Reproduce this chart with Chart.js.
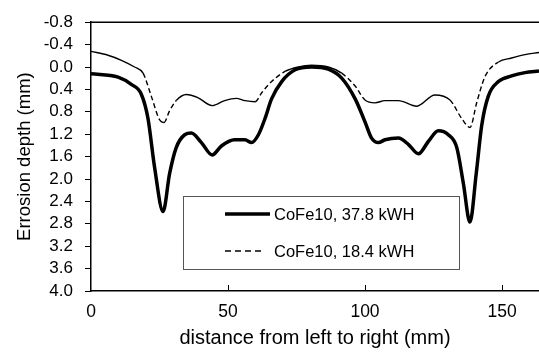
<!DOCTYPE html>
<html>
<head>
<meta charset="utf-8">
<script src="https://cdn.jsdelivr.net/npm/chart.js@4/dist/chart.umd.min.js"></script>
<style>
  html, body { margin: 0; padding: 0; background: #fff; }
  #wrap { width: 539px; height: 353px; }
</style>
</head>
<body>
<div id="wrap"><canvas id="erosion"></canvas></div>
<script>
// distance (mm) / depth (mm)
const seriesLabels = ["CoFe10, 37.8 kWH", "CoFe10, 18.4 kWH"];

const highX = [0, 9.9, 14.7, 18.4, 20.8, 23.2, 26.3, 28.7, 31.1, 34.2, 36.6, 40.3, 44.2, 47.6, 52.4,
  56.2, 58.6, 61.1, 63.5, 65.9, 69.6, 74.5, 80.5, 86.6, 91.5, 96.4, 100, 102.4, 104.9, 107.3,
  112.2, 115.8, 119.5, 123.1, 126.8, 130.4, 133.5, 135.9, 138.3, 140.6, 142.6, 145, 148.7, 153.5, 158.4, 163.5];
const highDepth = [0.12, 0.18, 0.31, 0.49, 0.92, 1.79, 2.58, 1.9, 1.44, 1.21, 1.18, 1.35, 1.57, 1.41, 1.3,
  1.3, 1.35, 1.21, 0.92, 0.57, 0.26, 0.05, 0.0, 0.04, 0.2, 0.57, 0.98, 1.27, 1.35, 1.3,
  1.27, 1.38, 1.55, 1.33, 1.14, 1.21, 1.44, 2.08, 2.77, 1.9, 1.04, 0.52, 0.26, 0.16, 0.1, 0.07];

const lowX = [0, 6.2, 11.1, 15.9, 19, 22, 25.1, 26.6, 28.7, 31.1, 34.8, 39.1, 44.2, 48.8, 53,
  56.2, 59.9, 62.3, 65.9, 70.8, 75.7, 80.5, 86.6, 91.5, 96.4, 100, 103.6, 107.3,
  112.2, 118.9, 125.5, 131, 135.3, 138.3, 140.8, 143.8, 148.7, 153.5, 158.4, 163.5];
const lowDepth = [-0.28, -0.21, -0.12, 0.0, 0.11, 0.52, 0.95, 0.99, 0.78, 0.6, 0.49, 0.55, 0.69, 0.6, 0.56,
  0.6, 0.62, 0.46, 0.26, 0.08, 0.0, -0.03, 0.0, 0.11, 0.34, 0.59, 0.64, 0.6,
  0.6, 0.7, 0.5, 0.59, 0.92, 1.08, 0.63, 0.17, -0.09, -0.16, -0.22, -0.26];

const xTicks = [0, 50, 100, 150];

const toPoints = (xs, ys) => xs.map((x, i) => ({ x: x, y: ys[i] }));

const FONT = "'Liberation Sans', Arial, sans-serif";
const DASH = [5, 3];

// the dashed curve only shows its gaps on the steep parts, like the original plot
const steepDash = ctx => {
  const dx = Math.abs(ctx.p1.x - ctx.p0.x);
  const dy = Math.abs(ctx.p1.y - ctx.p0.y);
  return dy > dx * 0.75 ? DASH : [];
};

// top frame line, inward x ticks and the boxed legend
const framePlugin = {
  id: "frame",
  afterDraw(chart) {
    const ctx = chart.ctx;
    const area = chart.chartArea;
    const xs = chart.scales.x;
    ctx.save();
    ctx.strokeStyle = "#000";
    ctx.lineWidth = 1.5;
    ctx.beginPath();
    ctx.moveTo(area.left, area.top);
    ctx.lineTo(area.right, area.top);
    ctx.stroke();

    ctx.lineWidth = 1;
    xTicks.slice(1).forEach(v => {
      const px = Math.round(xs.getPixelForValue(v)) + 0.5;
      ctx.beginPath();
      ctx.moveTo(px, area.bottom);
      ctx.lineTo(px, area.bottom - 6);
      ctx.stroke();
    });

    // legend box
    ctx.fillStyle = "#fff";
    ctx.fillRect(183, 196, 276, 73);
    ctx.strokeStyle = "#555";
    ctx.lineWidth = 1;
    ctx.strokeRect(183.5, 196.5, 276, 73);

    const rows = [214, 251];
    chart.data.datasets.forEach((ds, i) => {
      const y = rows[i];
      ctx.strokeStyle = "#000";
      ctx.lineWidth = ds.borderWidth;
      ctx.setLineDash(i === 0 ? [] : [6, 4]);
      ctx.beginPath();
      ctx.moveTo(225, y);
      ctx.lineTo(i === 0 ? 270 : 264, y);
      ctx.stroke();
      ctx.setLineDash([]);
      ctx.fillStyle = "#000";
      ctx.font = "16.5px " + FONT;
      ctx.textBaseline = "middle";
      ctx.textAlign = "left";
      ctx.fillText(ds.label, 274, y + 1);
    });
    ctx.restore();
  }
};

new Chart(document.getElementById("erosion"), {
  type: "line",
  data: {
    datasets: [
      {
        label: seriesLabels[0],
        data: toPoints(highX, highDepth),
        borderColor: "#000",
        borderWidth: 3.5,
        pointRadius: 0,
        cubicInterpolationMode: "monotone",
        fill: false
      },
      {
        label: seriesLabels[1],
        data: toPoints(lowX, lowDepth),
        borderColor: "#000",
        borderWidth: 1.4,
        borderDash: DASH,
        segment: { borderDash: steepDash },
        pointRadius: 0,
        cubicInterpolationMode: "monotone",
        fill: false
      }
    ]
  },
  options: {
    responsive: true,
    maintainAspectRatio: false,
    animation: false,
    layout: { padding: { top: 14, right: 0, left: 0, bottom: 0 } },
    plugins: {
      legend: { display: false },
      tooltip: { enabled: false }
    },
    scales: {
      x: {
        type: "linear",
        min: 0,
        max: 163.5,
        afterFit: s => { s.height = 62; },
        afterBuildTicks: s => { s.ticks = xTicks.map(v => ({ value: v })); },
        grid: { display: false, drawTicks: false },
        border: { color: "#000", width: 1.5 },
        ticks: {
          color: "#000",
          padding: 11,
          maxRotation: 0,
          autoSkip: false,
          font: { family: FONT, size: 17.5 }
        },
        title: {
          display: true,
          text: "distance from left to right (mm)",
          color: "#000",
          padding: { top: 0, bottom: 3 },
          font: { family: FONT, size: 20 }
        }
      },
      y: {
        reverse: true,
        min: -0.8,
        max: 4.0,
        afterFit: s => { s.width = 91; },
        grid: { drawOnChartArea: false, drawTicks: true, tickLength: 6, color: "#000" },
        border: { color: "#000", width: 1.5 },
        ticks: {
          stepSize: 0.4,
          autoSkip: false,
          color: "#000",
          padding: 12,
          font: { family: FONT, size: 17 },
          callback: v => (Math.abs(v) < 1e-9 ? 0 : v).toFixed(1)
        },
        title: {
          display: true,
          text: "Errosion depth (mm)",
          color: "#000",
          padding: { top: 14, bottom: 0 },
          font: { family: FONT, size: 18.5 }
        }
      }
    }
  },
  plugins: [framePlugin]
});
</script>
</body>
</html>
